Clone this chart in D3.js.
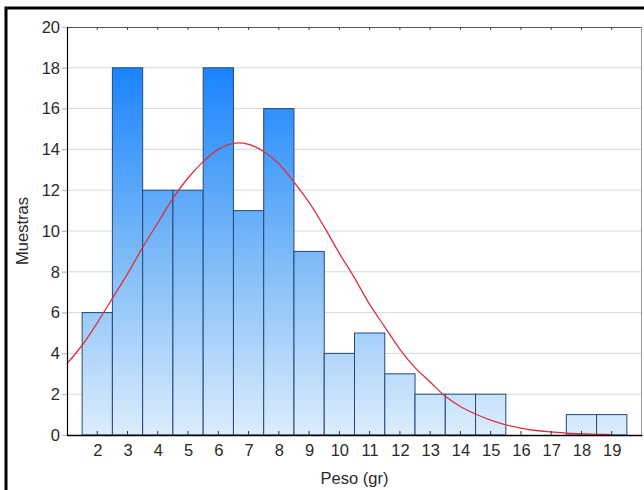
<!DOCTYPE html>
<html>
<head>
<meta charset="utf-8">
<script src="https://cdn.jsdelivr.net/npm/d3@7"></script>
<style>
  body { margin: 0; background: #fff; }
  text { font-family: "Liberation Sans", Arial, sans-serif; }
</style>
</head>
<body>
<div id="root"></div>
<script>
// histogram data
const pesos = [2, 3, 4, 5, 6, 7, 8, 9, 10, 11, 12, 13, 14, 15, 16, 17, 18, 19];
const muestras = [6, 18, 12, 12, 18, 11, 16, 9, 4, 5, 3, 2, 2, 2, 0, 0, 1, 1];
const yTicks = [0, 2, 4, 6, 8, 10, 12, 14, 16, 18, 20];

// fitted normal curve
const curveX = [1, 1.5, 2, 2.5, 3, 3.5, 4, 4.5, 5, 5.5, 6, 6.5, 7, 7.5, 8, 8.5, 9, 9.5, 10,
  10.5, 11, 11.5, 12, 12.5, 13, 13.5, 14, 14.5, 15, 15.5, 16, 16.5, 17, 17.5, 18, 18.5, 19];
const curveY = [3.5, 4.4, 5.5, 6.7, 7.9, 9.2, 10.4, 11.6, 12.6, 13.4, 14.0, 14.3, 14.25, 13.9,
  13.3, 12.4, 11.4, 10.2, 8.9, 7.7, 6.4, 5.3, 4.2, 3.3, 2.6, 1.9, 1.4, 1.03, 0.73, 0.5, 0.34,
  0.22, 0.15, 0.09, 0.06, 0.035, 0.02];

const W = 644, H = 490;
const plot = { left: 67, right: 642, top: 27, bottom: 435 };
const fontSize = "16.5px";

const x = d3.scaleLinear().domain([1, 20]).range([plot.left, plot.right]);
const y = d3.scaleLinear().domain([0, 20]).range([plot.bottom, plot.top]);

const svg = d3.select("#root").append("svg")
  .attr("width", W)
  .attr("height", H);

// outer frame (thick black, top and left visible)
svg.append("rect")
  .attr("x", 6).attr("y", 8)
  .attr("width", W + 10).attr("height", H + 10)
  .attr("fill", "#fff")
  .attr("stroke", "#000")
  .attr("stroke-width", 3);

const defs = svg.append("defs");
const grad = defs.append("linearGradient")
  .attr("id", "barGrad")
  .attr("gradientUnits", "userSpaceOnUse")
  .attr("x1", 0).attr("x2", 0)
  .attr("y1", y(18)).attr("y2", y(0));
grad.append("stop").attr("offset", "0%").attr("stop-color", "#1a84ff");
grad.append("stop").attr("offset", "50%").attr("stop-color", "#7ab9f7");
grad.append("stop").attr("offset", "100%").attr("stop-color", "#dcedfd");

// gridlines
svg.append("g")
  .selectAll("line")
  .data(yTicks.filter((d) => d > 0 && d < 20))
  .enter()
  .append("line")
  .attr("x1", plot.left - 5).attr("x2", plot.right)
  .attr("y1", (d) => y(d)).attr("y2", (d) => y(d))
  .attr("stroke", "#d8d8d8")
  .attr("stroke-width", 1);

// plot border (top / right)
svg.append("line")
  .attr("x1", plot.left).attr("x2", plot.right)
  .attr("y1", plot.top + 0.5).attr("y2", plot.top + 0.5)
  .attr("stroke", "#555");
svg.append("line")
  .attr("x1", plot.right - 0.5).attr("x2", plot.right - 0.5)
  .attr("y1", plot.top).attr("y2", plot.bottom)
  .attr("stroke", "#999");

// top ticks
svg.append("g")
  .selectAll("line")
  .data(pesos)
  .enter()
  .append("line")
  .attr("x1", (d) => x(d)).attr("x2", (d) => x(d))
  .attr("y1", plot.top).attr("y2", plot.top + 3)
  .attr("stroke", "#444");

// bars
svg.append("g")
  .selectAll(".bar")
  .data(pesos.map((p, i) => ({ p: p, v: muestras[i] })).filter((d) => d.v > 0))
  .enter()
  .append("rect")
  .attr("class", "bar")
  .attr("x", (d) => x(d.p - 0.5))
  .attr("y", (d) => y(d.v))
  .attr("width", (d) => x(d.p + 0.5) - x(d.p - 0.5))
  .attr("height", (d) => y(0) - y(d.v))
  .attr("fill", "url(#barGrad)")
  .attr("stroke", "#24487a")
  .attr("stroke-width", 1);

// normal curve
const line = d3.line()
  .x((d, i) => x(curveX[i]))
  .y((d) => y(d))
  .curve(d3.curveCatmullRom);

svg.append("path")
  .datum(curveY)
  .attr("d", line)
  .attr("fill", "none")
  .attr("stroke", "#dc2f3c")
  .attr("stroke-width", 1.3);

// y axis
const yAxis = d3.axisLeft(y).tickValues(yTicks).tickSize(5).tickPadding(2);
const gy = svg.append("g")
  .attr("transform", `translate(${plot.left}, 0)`)
  .call(yAxis);
gy.select(".domain").attr("stroke", "#000").attr("stroke-width", 1.2);
gy.selectAll(".tick line").attr("stroke", "#bbb");
gy.selectAll("text")
  .attr("font-size", fontSize)
  .attr("fill", "#2a2a2a")
  .style("font-family", "Liberation Sans, Arial, sans-serif");

// x axis
const xAxis = d3.axisBottom(x).tickValues(pesos).tickSize(0).tickPadding(9)
  .tickFormat(d3.format("d"));
const gx = svg.append("g")
  .attr("transform", `translate(0, ${plot.bottom})`)
  .call(xAxis);
gx.select(".domain").attr("stroke", "#000").attr("stroke-width", 1.5);
gx.selectAll("text")
  .attr("font-size", fontSize)
  .attr("fill", "#2a2a2a")
  .style("font-family", "Liberation Sans, Arial, sans-serif");

// inner ticks on bottom axis
svg.append("g")
  .selectAll("line")
  .data(pesos)
  .enter()
  .append("line")
  .attr("x1", (d) => x(d)).attr("x2", (d) => x(d))
  .attr("y1", plot.bottom - 4).attr("y2", plot.bottom)
  .attr("stroke", "#333");

// axis titles
svg.append("text")
  .attr("x", (plot.left + plot.right) / 2)
  .attr("y", 484)
  .attr("text-anchor", "middle")
  .attr("font-size", fontSize)
  .attr("fill", "#2a2a2a")
  .text("Peso (gr)");

svg.append("text")
  .attr("transform", `translate(28, ${(plot.top + plot.bottom) / 2}) rotate(-90)`)
  .attr("text-anchor", "middle")
  .attr("font-size", fontSize)
  .attr("fill", "#2a2a2a")
  .text("Muestras");
</script>
</body>
</html>
